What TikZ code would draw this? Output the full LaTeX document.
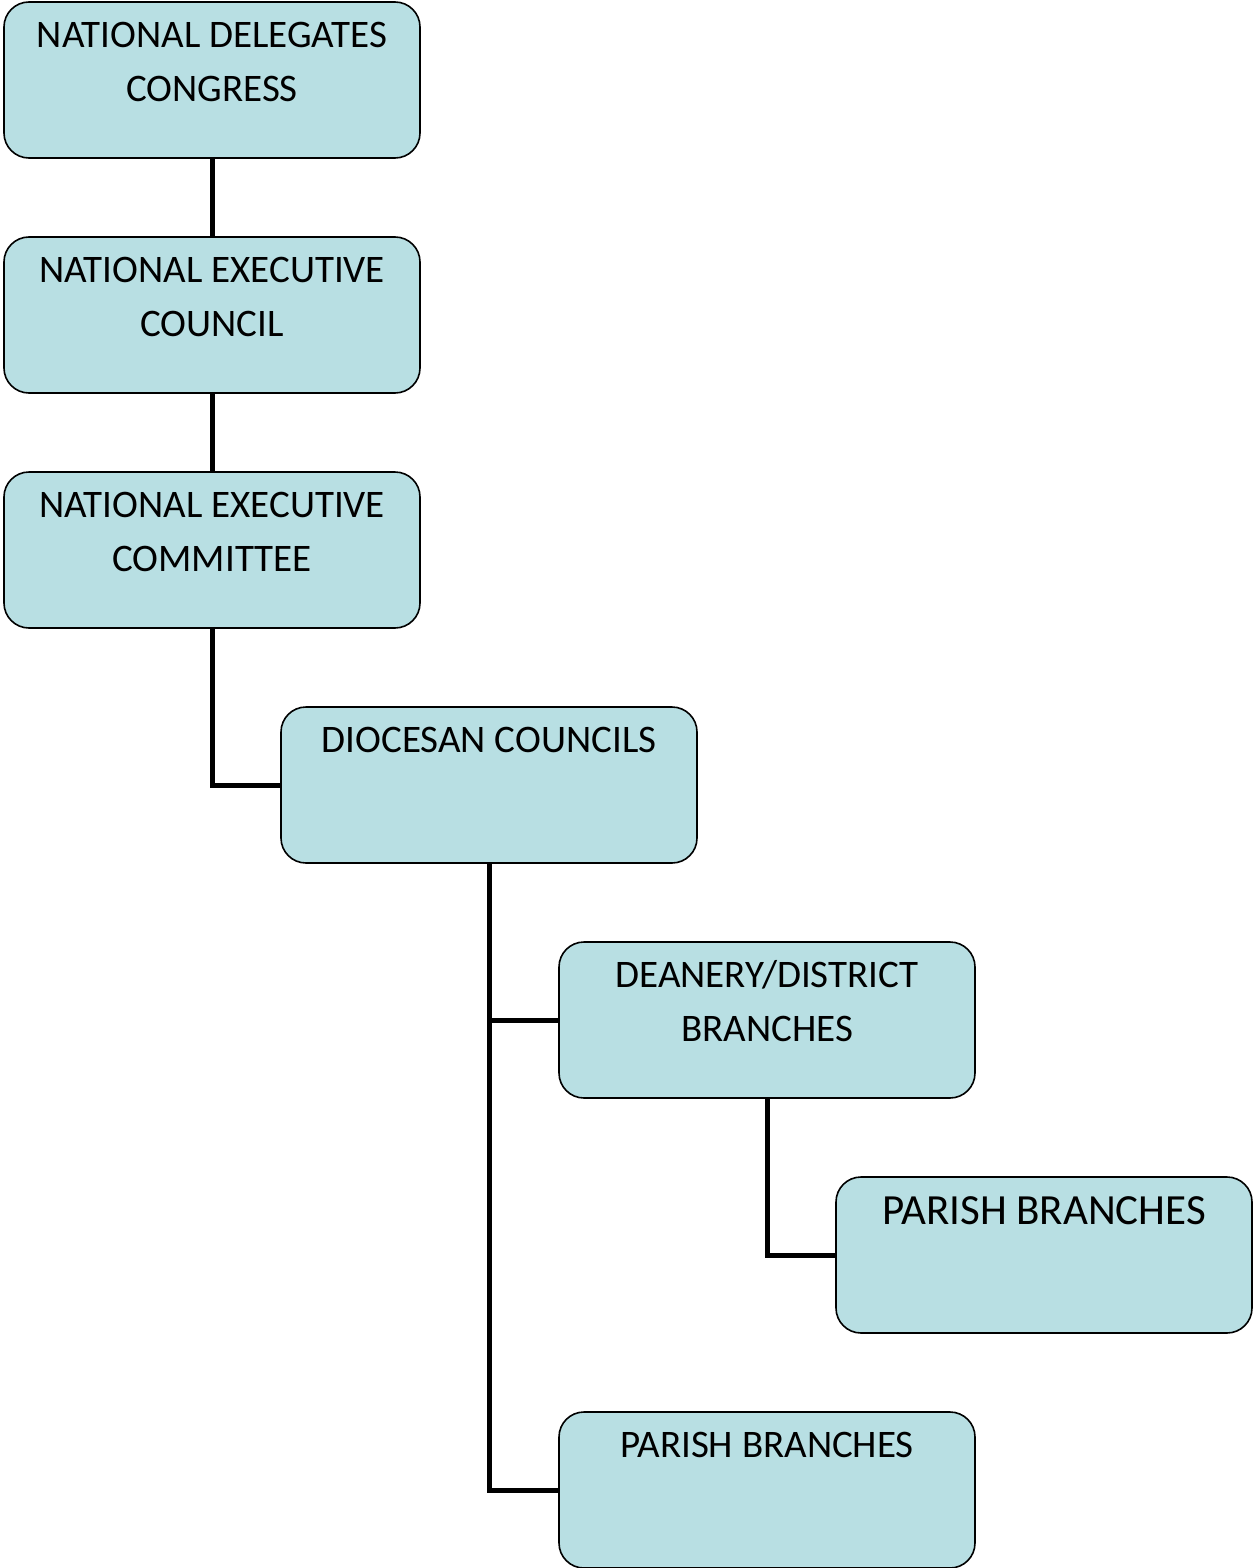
\documentclass[tikz,border=0pt]{standalone}
\usepackage{fontspec}
\setmainfont{Carlito}
\definecolor{boxfill}{HTML}{B8DFE3}
\begin{document}
\begin{tikzpicture}[x=1pt,y=-1pt,
  orgbox/.style={draw=black, line width=1.6pt, fill=boxfill, rounded corners=25pt,
    minimum width=416pt, minimum height=156pt, inner sep=0pt},
  boxtext/.style={anchor=base, align=center, inner sep=0pt, font=\fontsize{39}{54}\selectfont},
  bigtext/.style={anchor=base, align=center, inner sep=0pt, font=\fontsize{43}{54}\selectfont},
  link/.style={line width=5pt}]
\useasboundingbox (0,0) rectangle (1253,1568);
\node[orgbox] (ndc) at (212,80) {};
\node[orgbox] (nec) at (212,315) {};
\node[orgbox] (necm) at (212,550) {};
\node[orgbox] (dio) at (489,785) {};
\node[orgbox] (dean) at (767,1020) {};
\node[orgbox] (par1) at (1044,1255) {};
\node[orgbox] (par2) at (767,1490) {};
\node[boxtext] (t1) at ([yshift=-100pt]ndc.north) {NATIONAL DELEGATES\\CONGRESS};
\node[boxtext] (t2) at ([yshift=-100pt]nec.north) {NATIONAL EXECUTIVE\\COUNCIL};
\node[boxtext] (t3) at ([yshift=-100pt]necm.north) {NATIONAL EXECUTIVE\\COMMITTEE};
\node[boxtext] (t4) at ([yshift=-46pt]dio.north) {DIOCESAN COUNCILS};
\node[boxtext] (t5) at ([yshift=-100pt]dean.north) {DEANERY/DISTRICT\\BRANCHES};
\node[bigtext] (t6) at ([yshift=-48pt]par1.north) {PARISH BRANCHES};
\node[boxtext] (t7) at ([yshift=-46pt]par2.north) {PARISH BRANCHES};
\draw[link] (ndc.south) -- (nec.north);
\draw[link] (nec.south) -- (necm.north);
\draw[link] (necm.south) |- (dio.west);
\draw[link] (dio.south) |- (dean.west);
\draw[link] (dio.south) |- (par2.west);
\draw[link] (dean.south) |- (par1.west);
\end{tikzpicture}
\end{document}
